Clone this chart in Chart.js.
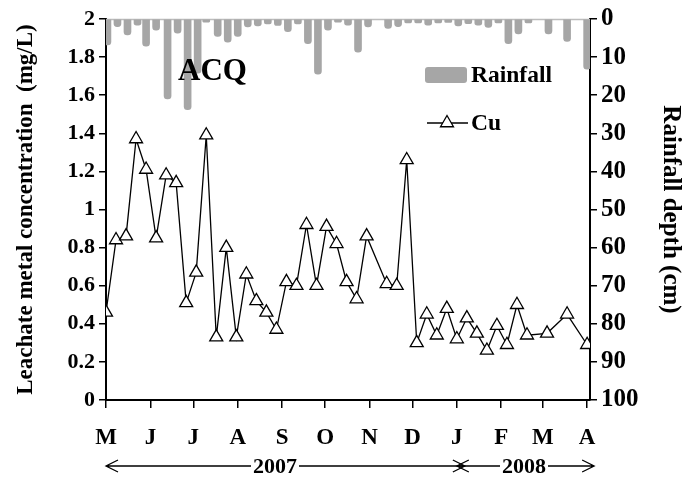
<!DOCTYPE html>
<html lang="en">
<head>
    <meta charset="UTF-8" />
    <title>ACQ leachate Cu and rainfall</title>
    <style>
        html, body {
            margin: 0;
            padding: 0;
            background: #ffffff;
        }

        #wrap {
            width: 687px;
            height: 481px;
        }
    </style>
    <script src="https://cdn.jsdelivr.net/npm/chart.js"></script>
</head>
<body>
    <div id="wrap"><canvas id="cuChart" width="687" height="481"></canvas></div>

    <script>
    // x positions are days since 1 May 2007
    const monthDays = [0, 31, 61, 92, 123, 153, 184, 214, 245, 276, 305, 336];
    const monthLabels = ['M', 'J', 'J', 'A', 'S', 'O', 'N', 'D', 'J', 'F', 'M', 'A'];

    // weekly leachate samples (mg/L)
    const cuDays = [0, 7, 14, 21, 28, 35, 42, 49, 56, 63, 70, 77, 84, 91, 98, 105, 112, 119,
        126, 133, 140, 147, 154, 161, 168, 175, 182, 196, 203, 210, 217, 224, 231, 238,
        245, 252, 259, 266, 273, 280, 287, 294, 308, 322, 336];
    const cuValues = [0.46, 0.84, 0.86, 1.37, 1.21, 0.85, 1.18, 1.14, 0.51, 0.67, 1.39, 0.33,
        0.80, 0.33, 0.66, 0.52, 0.46, 0.37, 0.62, 0.60, 0.92, 0.60, 0.91, 0.82, 0.62, 0.53,
        0.86, 0.61, 0.60, 1.26, 0.30, 0.45, 0.34, 0.48, 0.32, 0.43, 0.35, 0.26, 0.39, 0.29,
        0.50, 0.34, 0.35, 0.45, 0.29];

    // rainfall between samples (cm)
    const rainDays = [1, 8, 15, 22, 28, 35, 43, 50, 57, 64, 70, 78, 85, 92, 99, 106, 113, 120,
        127, 134, 141, 148, 155, 162, 169, 176, 183, 197, 204, 211, 218, 225, 232, 239, 246,
        253, 260, 267, 274, 281, 288, 295, 309, 322, 336];
    const rainCm = [6.8, 2.0, 4.2, 1.6, 7.1, 2.9, 21.0, 3.7, 23.8, 14.2, 0.8, 4.6, 6.1, 4.6,
        2.1, 1.8, 1.3, 1.7, 3.3, 1.3, 6.5, 14.5, 2.9, 0.8, 1.6, 8.7, 2.1, 2.5, 2.0, 1.0, 1.0,
        1.6, 1.0, 0.9, 1.8, 1.2, 1.6, 2.2, 1.0, 6.5, 3.9, 1.0, 3.9, 5.9, 13.2];

    const serif = '"Liberation Serif", "Times New Roman", serif';
    const rainColor = '#a6a6a6';

    // top border, legend, ACQ label and year arrows
    const decorations = {
        id: 'decorations',
        beforeDatasetsDraw(chart) {
            const { ctx, chartArea } = chart;
            ctx.save();
            ctx.strokeStyle = '#bdbdbd';
            ctx.lineWidth = 1.5;
            ctx.beginPath();
            ctx.moveTo(chartArea.left, chartArea.top + 0.5);
            ctx.lineTo(chartArea.right, chartArea.top + 0.5);
            ctx.stroke();
            ctx.restore();
        },
        afterDraw(chart) {
            const { ctx } = chart;
            const xs = chart.scales.x;
            ctx.save();
            ctx.fillStyle = '#000';
            ctx.textBaseline = 'middle';

            ctx.font = 'bold 31px ' + serif;
            ctx.fillText('ACQ', 178, 72);

            // legend
            ctx.fillStyle = rainColor;
            ctx.beginPath();
            ctx.roundRect(425, 67, 42, 16, 3);
            ctx.fill();
            ctx.fillStyle = '#000';
            ctx.font = 'bold 23.5px ' + serif;
            ctx.fillText('Rainfall', 471, 76);

            ctx.strokeStyle = '#000';
            ctx.lineWidth = 1.3;
            ctx.beginPath();
            ctx.moveTo(427, 123);
            ctx.lineTo(468, 123);
            ctx.stroke();
            ctx.fillStyle = '#fff';
            Chart.helpers.drawPoint(ctx, { pointStyle: 'triangle', radius: 7.5, borderWidth: 1.3 }, 447, 123);
            ctx.fillStyle = '#000';
            ctx.fillText('Cu', 471, 124);

            // year arrows
            const y = 466;
            const x0 = xs.getPixelForValue(0);
            const xJan = xs.getPixelForValue(245) + 4;
            const xEnd = xs.getPixelForValue(336) + 7;
            ctx.font = 'bold 22px ' + serif;
            ctx.textAlign = 'center';
            const arrow = (a, b, label, mid) => {
                const w = ctx.measureText(label).width / 2 + 2;
                ctx.beginPath();
                ctx.moveTo(a, y); ctx.lineTo(mid - w, y);
                ctx.moveTo(mid + w, y); ctx.lineTo(b, y);
                ctx.moveTo(a + 12, y - 6); ctx.lineTo(a, y); ctx.lineTo(a + 12, y + 6);
                ctx.moveTo(b - 12, y - 6); ctx.lineTo(b, y); ctx.lineTo(b - 12, y + 6);
                ctx.stroke();
                ctx.fillText(label, mid, y + 1);
            };
            arrow(x0, xJan + 4, '2007', 275);
            arrow(xJan - 4, xEnd, '2008', 524);
            ctx.restore();
        }
    };

    new Chart(document.getElementById('cuChart'), {
        type: 'line',
        data: {
            datasets: [{
                type: 'line',
                label: 'Cu',
                data: cuDays.map((d, i) => ({ x: d, y: cuValues[i] })),
                yAxisID: 'y',
                borderColor: '#000',
                borderWidth: 1.3,
                pointStyle: 'triangle',
                pointRadius: 7.5,
                pointBackgroundColor: '#fff',
                pointBorderColor: '#000',
                pointBorderWidth: 1.3,
                tension: 0,
                order: 1
            }, {
                type: 'bar',
                label: 'Rainfall',
                data: rainDays.map((d, i) => ({ x: d, y: rainCm[i] })),
                yAxisID: 'y2',
                backgroundColor: rainColor,
                barThickness: 7,
                borderRadius: 4,
                borderSkipped: 'start',
                order: 2
            }]
        },
        options: {
            responsive: false,
            animation: false,
            layout: { padding: { top: 18, left: 0, right: 0, bottom: 0 } },
            plugins: {
                legend: { display: false },
                tooltip: { enabled: false }
            },
            scales: {
                x: {
                    type: 'linear',
                    min: 0,
                    max: 338,
                    offset: false,
                    afterBuildTicks: (scale) => {
                        scale.ticks = monthDays.map(v => ({ value: v }));
                    },
                    afterFit: (scale) => { scale.height = 81; },
                    border: { color: '#000', width: 2 },
                    grid: { display: true, drawOnChartArea: false, drawTicks: true, tickLength: 8, color: '#000', lineWidth: 1.5, offset: false },
                    ticks: {
                        autoSkip: false,
                        maxRotation: 0,
                        padding: 16,
                        color: '#000',
                        font: { family: serif, size: 23, weight: 'bold' },
                        callback: (v, i) => monthLabels[i]
                    }
                },
                y: {
                    position: 'left',
                    min: 0,
                    max: 2,
                    afterFit: (scale) => { scale.width = 106; },
                    border: { color: '#000', width: 2 },
                    grid: { display: true, drawOnChartArea: false, drawTicks: true, tickLength: 7, color: '#000', lineWidth: 1.5 },
                    ticks: {
                        stepSize: 0.2,
                        padding: 4,
                        color: '#000',
                        font: { family: serif, size: 22, weight: 'bold' },
                        callback: (v) => String(Number(v.toFixed(1)))
                    },
                    title: {
                        display: true,
                        text: 'Leachate metal concentration  (mg/L)',
                        color: '#000',
                        padding: { top: 12, bottom: 0 },
                        font: { family: serif, size: 23, weight: 'bold' }
                    }
                },
                y2: {
                    position: 'right',
                    min: 0,
                    max: 100,
                    reverse: true,
                    afterFit: (scale) => { scale.width = 97; },
                    border: { color: '#000', width: 2 },
                    grid: { display: true, drawOnChartArea: false, drawTicks: true, tickLength: 7, color: '#000', lineWidth: 1.5 },
                    ticks: {
                        stepSize: 10,
                        padding: 4,
                        color: '#000',
                        font: { family: serif, size: 25, weight: 'bold' }
                    },
                    title: {
                        display: true,
                        text: 'Rainfall depth (cm)',
                        color: '#000',
                        padding: { top: 2, bottom: 0 },
                        font: { family: serif, size: 25, weight: 'bold' }
                    }
                }
            }
        },
        plugins: [decorations]
    });
    </script>
</body>
</html>
